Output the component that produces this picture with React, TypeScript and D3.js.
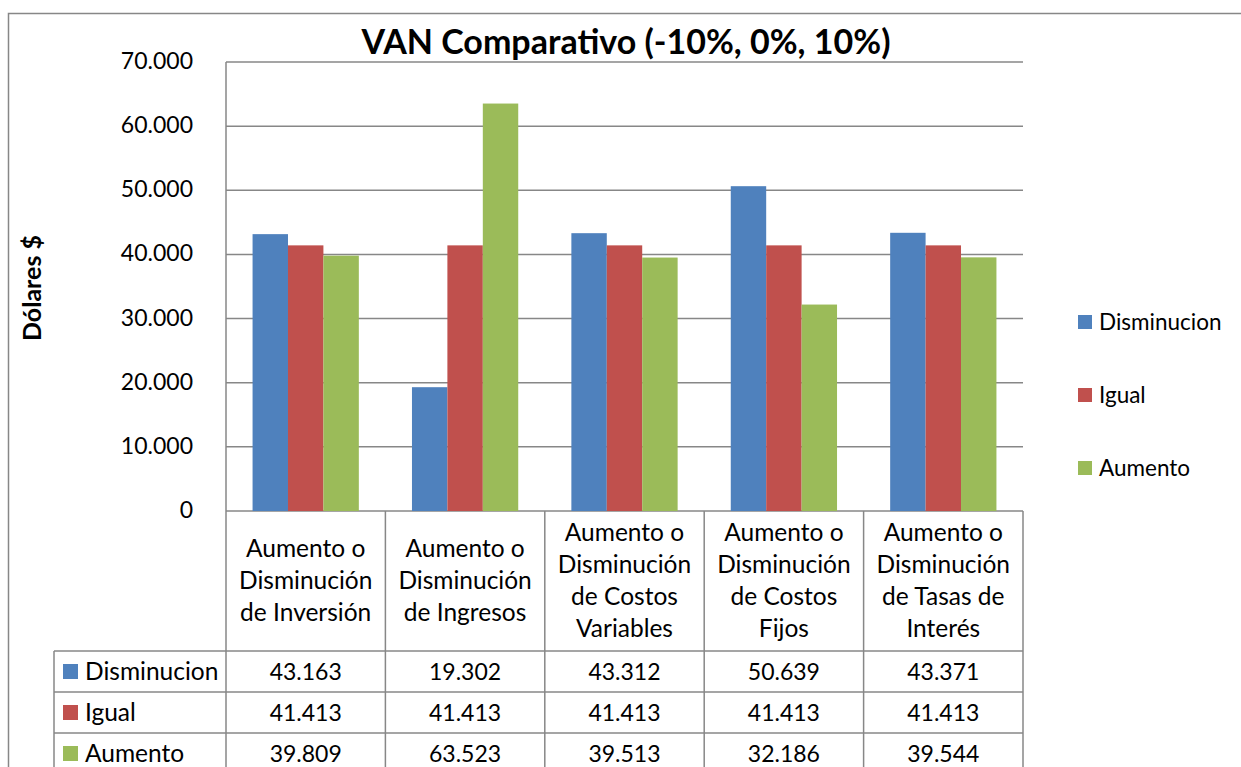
import React from 'react';
import * as d3 from 'd3';

const categories = [
  ['Aumento o', 'Disminución', 'de Inversión'],
  ['Aumento o', 'Disminución', 'de Ingresos'],
  ['Aumento o', 'Disminución', 'de Costos', 'Variables'],
  ['Aumento o', 'Disminución', 'de Costos', 'Fijos'],
  ['Aumento o', 'Disminución', 'de Tasas de', 'Interés'],
];
const seriesNames = ['Disminucion', 'Igual', 'Aumento'];
const seriesColors = ['#4F81BD', '#C0504D', '#9BBB59'];
const disminucion = [43163, 19302, 43312, 50639, 43371];
const igual = [41413, 41413, 41413, 41413, 41413];
const aumento = [39809, 63523, 39513, 32186, 39544];
const yTicks = [0, 10000, 20000, 30000, 40000, 50000, 60000, 70000];

const series = [disminucion, igual, aumento];

const locale = d3.formatLocale({ decimal: ',', thousands: '.', grouping: [3], currency: ['$', ''] });
const fmt = locale.format(',d');

const W = 1241;
const H = 767;
const left = 226;
const right = 1023;
const top = 62;
const zeroY = 511;
const headerBottom = 651;
const rowH = 41;
const tableLeft = 54;
const font = 'Lato, "Open Sans", sans-serif';
const grid = '#878787';

export default function App() {
  const x = d3.scaleBand<number>().domain(d3.range(categories.length)).range([left, right]).padding(0);
  const cw = x.bandwidth();
  const bw = cw / 4.5;
  const inner = d3.scaleBand<number>().domain(d3.range(3)).range([bw * 0.75, cw - bw * 0.75]).padding(0);
  const y = d3.scaleLinear().domain([0, 70000]).range([zeroY, top]);

  const rowTops = seriesNames.map((_, i) => headerBottom + i * rowH);

  return (
    <svg width={W} height={H} style={{ position: 'absolute', left: 0, top: 0, display: 'block', background: '#fff' }} fontFamily={font}>
      {/* outer frame */}
      <rect x={8.5} y={13.5} width={W + 20} height={H + 20} fill="none" stroke={grid} strokeWidth={1.5} />

      <text x={626} y={54} textAnchor="middle" fontWeight="bold" fontSize={34}>
        VAN Comparativo (-10%, 0%, 10%)
      </text>

      <text transform={`translate(41,288) rotate(-90)`} textAnchor="middle" fontWeight="bold" fontSize={25}>
        Dólares $
      </text>

      {/* gridlines */}
      {yTicks.map(t => (
        <line key={t} x1={left} x2={right} y1={y(t)} y2={y(t)} stroke={grid} strokeWidth={1.5} />
      ))}
      {yTicks.map(t => (
        <text key={'l' + t} x={193} y={y(t) + 7} textAnchor="end" fontSize={23}>
          {fmt(t)}
        </text>
      ))}

      {/* bars */}
      {categories.map((_, ci) =>
        series.map((vals, si) => (
          <rect
            key={ci + '-' + si}
            x={x(ci)! + inner(si)!}
            y={y(vals[ci])}
            width={inner.bandwidth()}
            height={zeroY - y(vals[ci])}
            fill={seriesColors[si]}
          />
        ))
      )}

      {/* left axis */}
      <line x1={left} x2={left} y1={top} y2={H + 10} stroke={grid} strokeWidth={1.5} />

      {/* table grid */}
      {categories.map((_, ci) => (
        <line key={'v' + ci} x1={x(ci)! + cw} x2={x(ci)! + cw} y1={zeroY} y2={H + 10} stroke={grid} strokeWidth={1.5} />
      ))}
      <line x1={tableLeft} x2={tableLeft} y1={headerBottom} y2={H + 10} stroke={grid} strokeWidth={1.5} />
      {rowTops.map((r, i) => (
        <line key={'h' + i} x1={tableLeft} x2={right} y1={r} y2={r} stroke={grid} strokeWidth={1.5} />
      ))}

      {/* header labels */}
      {categories.map((lines, ci) =>
        lines.map((ln, li) => (
          <text
            key={ci + 'h' + li}
            x={x(ci)! + cw / 2}
            y={(zeroY + headerBottom) / 2 + 8 + (li - (lines.length - 1) / 2) * 32}
            textAnchor="middle"
            fontSize={24.5}
          >
            {ln}
          </text>
        ))
      )}

      {/* rows */}
      {seriesNames.map((name, si) => (
        <g key={name}>
          <rect x={63} y={rowTops[si] + rowH / 2 - 7.5} width={15} height={15} fill={seriesColors[si]} />
          <text x={85} y={rowTops[si] + rowH / 2 + 8.5} fontSize={24.5}>
            {name}
          </text>
          {series[si].map((v, ci) => (
            <text key={ci} x={x(ci)! + cw / 2} y={rowTops[si] + rowH / 2 + 8.5} textAnchor="middle" fontSize={23}>
              {fmt(v)}
            </text>
          ))}
        </g>
      ))}

      {/* legend */}
      {seriesNames.map((name, si) => (
        <g key={'lg' + name} transform={`translate(1078,${315 + si * 73})`}>
          <rect x={0} y={0} width={14} height={14} fill={seriesColors[si]} />
          <text x={21} y={15} fontSize={22.5}>
            {name}
          </text>
        </g>
      ))}
    </svg>
  );
}
